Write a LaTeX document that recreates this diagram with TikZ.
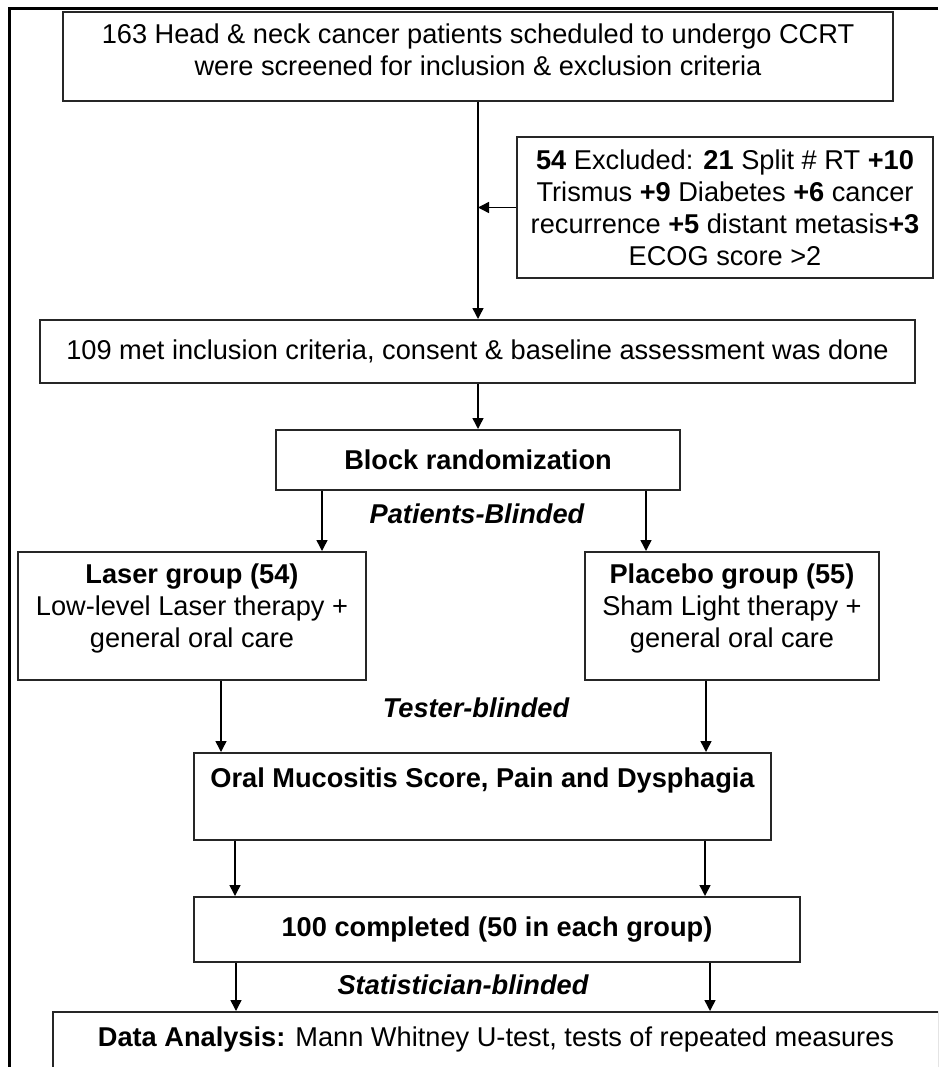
\documentclass[tikz,border=0pt]{standalone}
\usepackage{fontspec}
\setmainfont{Liberation Sans}
\usetikzlibrary{arrows.meta,calc}

\newcommand{\flowsize}{\fontsize{27.2}{32}\selectfont}

\tikzset{
  box/.style={draw=black!85, line width=2pt, inner sep=0pt, align=center, font=\flowsize},
  boldbox/.style={box, font=\flowsize\bfseries},
  blind/.style={font=\flowsize\bfseries\itshape},
  arr/.style={line width=1.5pt, -{Triangle[length=11pt,width=11pt]}}
}

\begin{document}
\begin{tikzpicture}[x=1pt,y=-1pt]

\useasboundingbox (0,0) rectangle (938,1067);
\clip (0,0) rectangle (938,1067);

% frame, only top and left edge show
\draw[line width=3pt] (938,9) -- (9,9) -- (9,1067);

% screening
\node[box, minimum width=830, minimum height=89, text depth=14pt] (screen) at (478,56.5)
  {163 Head \& neck cancer patients scheduled to undergo CCRT\\were screened for inclusion \& exclusion criteria};

\node[box, minimum width=416, minimum height=141] (excl) at (725,207.5)
  {\textbf{54} Excluded: \textbf{21} Split \# RT \textbf{+10}\\
   Trismus \textbf{+9} Diabetes \textbf{+6} cancer\\
   recurrence \textbf{+5} distant metasis\textbf{+3}\\
   ECOG score >2};

\node[box, minimum width=875, minimum height=63] (met) at (477.5,351.5)
  {109 met inclusion criteria, consent \& baseline assessment was done};

% randomization
\node[boldbox, minimum width=404, minimum height=60] (block) at (478,460) {Block randomization};
\node[blind] (pblind) at (477,514) {Patients-Blinded};

% the two groups
\node[box, minimum width=348, minimum height=128, text depth=20pt] (laser) at (192,616)
  {\textbf{Laser group (54)}\\Low-level Laser therapy +\\general oral care};
\node[box, minimum width=294, minimum height=128, text depth=20pt] (placebo) at (732,616)
  {\textbf{Placebo group (55)}\\Sham Light therapy +\\general oral care};

\node[blind] (tblind) at (476,708) {Tester-blinded};

% outcomes
\node[boldbox, minimum width=577, minimum height=87, text depth=37pt] (oral) at (482.5,796.5)
  {Oral Mucositis Score, Pain and Dysphagia};
\node[boldbox, minimum width=606, minimum height=65] (done) at (497,929.5)
  {100 completed (50 in each group)};

\node[blind] (sblind) at (463,985) {Statistician-blinded};

\node[box, minimum width=886, minimum height=68, text depth=18pt] (data) at (496,1046)
  {\textbf{Data Analysis:} Mann Whitney U-test, tests of repeated measures};

% arrows
\draw[arr] (screen.south) -- (screen.south |- met.north);
\draw[arr] (excl.west) -- (excl.west -| screen.south);
\draw[arr] (block.north |- met.south) -- (block.north);
\draw[arr] (322,0 |- block.south) -- (322,0 |- laser.north);
\draw[arr] (646,0 |- block.south) -- (646,0 |- placebo.north);
\draw[arr] (221,0 |- laser.south) -- (221,0 |- oral.north);
\draw[arr] (706,0 |- placebo.south) -- (706,0 |- oral.north);
\draw[arr] (235,0 |- oral.south) -- (235,0 |- done.north);
\draw[arr] (705,0 |- oral.south) -- (705,0 |- done.north);
\draw[arr] (236,0 |- done.south) -- (236,0 |- data.north);
\draw[arr] (710,0 |- done.south) -- (710,0 |- data.north);

\end{tikzpicture}
\end{document}
